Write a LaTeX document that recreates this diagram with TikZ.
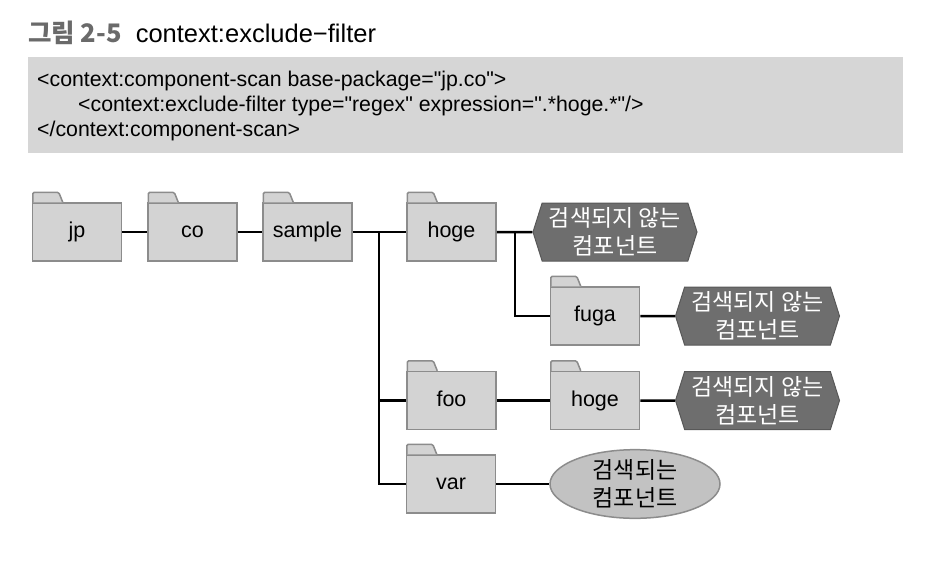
\documentclass[tikz,border=0pt]{standalone}
\usepackage{fontspec}
\setmainfont{Liberation Sans}
\newfontfamily\codefont{Liberation Sans}
\newfontfamily\kr{Noto Sans CJK KR}
\usetikzlibrary{shapes.geometric,shapes.symbols}

\definecolor{foldergray}{HTML}{D3D3D3}
\definecolor{folderline}{HTML}{8C8C8C}
\definecolor{codegray}{HTML}{D6D6D6}
\definecolor{hexgray}{HTML}{6E6E6E}
\definecolor{titlegray}{HTML}{6A6A6A}

\tikzstyle{folder} = [draw=folderline, fill=foldergray, line width=1.5pt,
    rectangle, minimum width=89pt, minimum height=58pt,
    text height=15pt, text depth=4pt, font=\fontsize{21.5}{25}\selectfont]
\tikzstyle{skipped} = [draw=hexgray!80!black, fill=hexgray, text=white, line width=1pt,
    signal, signal to=west and east, signal pointer angle=145,
    minimum width=164pt, minimum height=58pt, inner sep=0pt, align=center,
    font=\kr\fontsize{23}{28}\selectfont]
\tikzstyle{found} = [draw=folderline, fill=foldergray!92!black, line width=1.5pt,
    ellipse, minimum width=170pt, minimum height=62pt, inner sep=0pt, align=center,
    font=\kr\fontsize{23}{28}\selectfont]
\tikzstyle{link} = [line width=2.5pt, black]

\newcommand{\foldertab}[1]{%
  \filldraw[draw=folderline, fill=foldergray, line width=1.5pt, rounded corners=1.5pt]
    ([xshift=1pt]#1.north west) -- ++(0,-10) -- ++(26,0) -- ++(4,10);}

\begin{document}
\begin{tikzpicture}[x=1pt, y=-1pt]
\useasboundingbox (0,0) rectangle (940,568);

% caption and the xml snippet
\node[anchor=west, inner sep=0pt, font=\fontsize{25.5}{30}\selectfont] (title) at (28,33)
    {{\kr\bfseries\color{titlegray}그림 2-5}\hspace{14pt}context:exclude−filter};
\node[fill=codegray, anchor=north west, minimum width=875pt, minimum height=96pt] (code) at (28,57) {};
\node[anchor=north west, align=left, inner sep=0pt, font=\codefont\fontsize{21.3}{25}\selectfont] (src) at (37,71)
    {<context:component-scan base-package="jp.co">\\
     \hspace*{41pt}<context:exclude-filter type="regex" expression=".*hoge.*"/>\\
     </context:component-scan>};

% package folders
\node[folder] (jp) at (77,232) {jp};
\node[folder] (co) at (192.5,232) {co};
\node[folder] (sample) at (307.5,232) {sample};
\node[folder] (hoge) at (451.5,232) {hoge};
\node[folder] (fuga) at (595,316) {fuga};
\node[folder] (foo) at (451.5,400.5) {foo};
\node[folder] (hoge2) at (595,400.5) {hoge};
\node[folder] (var) at (451,484) {var};
\foreach \f in {jp,co,sample,hoge,fuga,foo,hoge2,var} {\foldertab{\f}}

% scan results
\node[skipped] (hit1) at (615,232) {검색되지 않는\\컴포넌트};
\node[skipped] (hit2) at (757.5,316) {검색되지 않는\\컴포넌트};
\node[skipped] (hit3) at (757.5,400.5) {검색되지 않는\\컴포넌트};
\node[found] (hit4) at (635,484) {검색되는\\컴포넌트};

% connectors
\coordinate (fork) at (379,232);
\coordinate (fork2) at (515,232);
\draw[link] (jp) -- (co);
\draw[link] (co) -- (sample);
\draw[link] (sample) -- (hoge);
\draw[link] (fork) |- (foo);
\draw[link] (fork) |- (var);
\draw[link] (hoge) -- (hit1);
\draw[link] (fork2) |- (fuga);
\draw[link] (fuga) -- (hit2);
\draw[link] (foo) -- (hoge2);
\draw[link] (hoge2) -- (hit3);
\draw[link] (var) -- (hit4);
\end{tikzpicture}
\end{document}
